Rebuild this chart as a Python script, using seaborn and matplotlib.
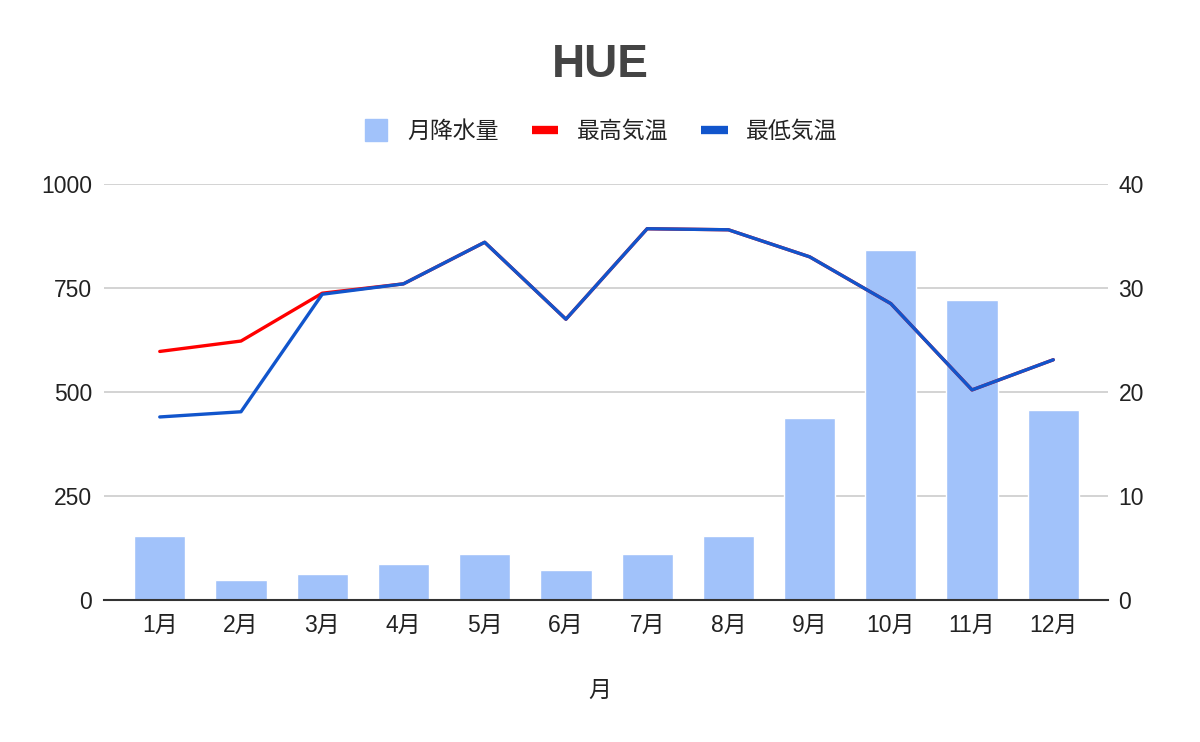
import seaborn as sns
import matplotlib.pyplot as plt
import pandas as pd
from matplotlib.lines import Line2D

months = ['1月', '2月', '3月', '4月', '5月', '6月',
          '7月', '8月', '9月', '10月', '11月', '12月']
rain = [154, 48, 62, 86, 110, 73, 110, 154, 437, 841, 721, 457]
t_max = [23.9, 24.9, 29.5, 30.4, 34.4, 27.0, 35.7, 35.6, 33.0, 28.5, 20.2, 23.1]
t_min = [17.6, 18.1, 29.4, 30.4, 34.4, 27.0, 35.7, 35.6, 33.0, 28.5, 20.2, 23.1]
left_ticks = [0, 250, 500, 750, 1000]
right_ticks = [0, 10, 20, 30, 40]

bar_col = '#a1c2fa'
red = '#ff0000'
blue = '#1155cc'
txt = '#222222'
fs = 16.5

sns.set_theme(style='white')
plt.rcParams['font.family'] = ['Liberation Sans', 'Noto Sans CJK JP']

df = pd.DataFrame({'month': months, 'rain': rain, 'tmax': t_max, 'tmin': t_min})

fig = plt.figure(figsize=(12, 7.42), dpi=100)
ax = fig.add_axes([0.0867, 0.1914, 0.8366, 0.5606])

sns.barplot(data=df, x='month', y='rain', color=bar_col, width=0.63,
            saturation=1, ax=ax, zorder=2)
ax.set_ylim(0, 1000)
ax.set_yticks(left_ticks)
ax.set_xlim(-0.686, 11.673)
ax.grid(axis='y', color='#cccccc', linewidth=1.2, zorder=0)
ax.set_axisbelow(True)
for s in ['top', 'left', 'right']:
    ax.spines[s].set_visible(False)
ax.spines['bottom'].set_color('#333333')
ax.spines['bottom'].set_linewidth(1.5)
ax.spines['bottom'].set_zorder(5)
ax.tick_params(axis='both', length=0, labelsize=fs, colors=txt)
ax.tick_params(axis='y', pad=8.5)
ax.tick_params(axis='x', pad=10)
ax.set_ylabel('')
ax.set_xlabel('')

ax2 = ax.twinx()
sns.lineplot(data=df, x='month', y='tmax', color=red, linewidth=2.4,
             sort=False, ax=ax2)
sns.lineplot(data=df, x='month', y='tmin', color=blue, linewidth=2.4,
             sort=False, ax=ax2)
ax2.set_ylim(0, 40)
ax2.set_yticks(right_ticks)
ax2.set_xlim(-0.686, 11.673)
for s in ['top', 'left', 'right', 'bottom']:
    ax2.spines[s].set_visible(False)
ax2.tick_params(axis='y', length=0, labelsize=fs, colors=txt, pad=7.5)
ax2.set_ylabel('')
ax2.set_xlabel('')
ax2.grid(False)

fig.text(0.5, 0.912, 'HUE', ha='center', va='center', fontsize=33,
         fontweight='bold', color='#444444')
fig.text(0.5, 0.07, '月', ha='center', va='center', fontsize=fs, color=txt)

handles = [Line2D([], [], color=bar_col, marker='s', markersize=16, linestyle='none'),
           Line2D([], [], color=red, linewidth=6, solid_capstyle='butt'),
           Line2D([], [], color=blue, linewidth=6, solid_capstyle='butt')]
fig.legend(handles, ['月降水量', '最高気温', '最低気温'], loc='center',
           bbox_to_anchor=(0.5, 0.823), ncol=3, frameon=False, fontsize=fs,
           handlelength=1.15, columnspacing=1.45,
           handletextpad=0.8, labelcolor=txt)

fig.savefig('out.png', dpi=100)
